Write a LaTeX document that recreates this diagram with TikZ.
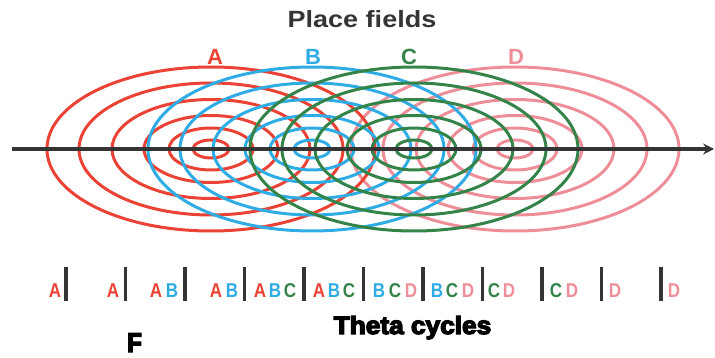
\documentclass[tikz,border=0pt]{standalone}
\usepackage{fontspec}
\usetikzlibrary{arrows.meta}
\setmainfont{Liberation Sans}
\newfontfamily\heavyfont[FakeBold=5]{Liberation Sans Bold}

\definecolor{fieldA}{RGB}{234,66,52}
\definecolor{fieldB}{RGB}{48,172,228}
\definecolor{fieldC}{RGB}{52,132,74}
\definecolor{fieldD}{RGB}{238,142,152}
\definecolor{inkgray}{RGB}{52,52,52}

\begin{document}
\begin{tikzpicture}[x=1pt,y=-1pt]
\tikzstyle{field}=[line width=3pt]
\tikzstyle{lbl}=[font=\bfseries\fontsize{22}{22}\selectfont, inner sep=0pt, anchor=base]
\tikzstyle{spk}=[font=\bfseries\fontsize{20}{20}\selectfont, inner sep=0pt,
                        anchor=base, xscale=.85]
\tikzstyle{cyc}=[line width=3.2pt, draw=inkgray]
\useasboundingbox (0,0) rectangle (715,358);

% place fields, D first so that it lies below
\foreach \cx/\col in {515/fieldD, 211/fieldA, 312/fieldB, 414/fieldC}
  \foreach \r in {18,42,67,99,132,164}
    \draw[field,\col] (\cx,149) ellipse [x radius=\r pt, y radius=0.5*\r pt];

	\coordinate (axL) at (12,149);
	\coordinate (axR) at (714,149);
\draw[line width=3.4pt, inkgray, -{Stealth[length=11pt,width=11pt,inset=4pt]}] (axL)--(axR);

	\node[font=\bfseries\fontsize{23.5}{24}\selectfont, text=inkgray, anchor=base,
	      xscale=1.15, inner sep=0pt] (title) at (362,28){Place fields};
	\node[lbl, text=fieldA] (lA) at (215,65){A};
	\node[lbl, text=fieldB] (lB) at (313,65){B};
	\node[lbl, text=fieldC] (lC) at (409,65){C};
	\node[lbl, text=fieldD] (lD) at (516,65){D};

% theta cycles
\foreach \bx [count=\j] in {66,125.5,185,244.5,304,363.5,423,482.5,542,601.5,661}{
	\coordinate (top\j) at (\bx,267);
	\coordinate (bot\j) at (\bx,301);
	\draw[cyc] (top\j)--(bot\j);
}
\foreach \sx/\ch/\col [count=\i] in {55/A/fieldA, 113/A/fieldA,
      156/A/fieldA, 172/B/fieldB, 216/A/fieldA, 232/B/fieldB,
      260/A/fieldA, 275/B/fieldB, 290/C/fieldC, 319/A/fieldA, 334/B/fieldB, 349/C/fieldC,
      379/B/fieldB, 395/C/fieldC, 411/D/fieldD, 437/B/fieldB, 452/C/fieldC, 468/D/fieldD,
      494/C/fieldC, 509/D/fieldD, 556/C/fieldC, 572/D/fieldD, 615/D/fieldD, 674/D/fieldD}
	\node[spk, text=\col] (s\i) at (\sx,297){\ch};

	\node[font=\heavyfont\fontsize{25}{25}\selectfont, anchor=base, xscale=1.05,
	      inner sep=0pt] (theta) at (412.5,334){Theta cycles};
	\node[font=\heavyfont\fontsize{27}{27}\selectfont, anchor=base, xscale=.9,
	      inner sep=0pt] (F) at (134.5,352){F};
\end{tikzpicture}
\end{document}
